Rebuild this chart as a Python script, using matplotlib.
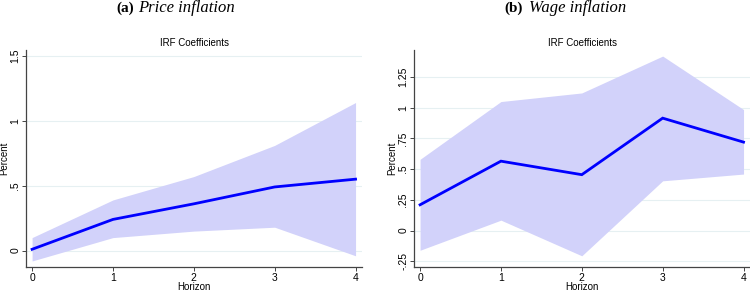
import matplotlib
matplotlib.use("Agg")
import matplotlib.pyplot as plt

# horizons and IRF estimates
horizon = [0, 1, 2, 3, 4]

price_mean = [0.01, 0.24, 0.36, 0.49, 0.55]
price_upper = [0.10, 0.39, 0.57, 0.81, 1.14]
price_lower = [-0.08, 0.10, 0.15, 0.18, -0.04]
price_ticks = [0, 0.5, 1, 1.5]
price_ticklabels = ["0", ".5", "1", "1.5"]

wage_mean = [0.21, 0.565, 0.455, 0.915, 0.72]
wage_upper = [0.58, 1.05, 1.12, 1.42, 0.985]
wage_lower = [-0.16, 0.085, -0.205, 0.405, 0.46]
wage_ticks = [-0.25, 0, 0.25, 0.5, 0.75, 1, 1.25]
wage_ticklabels = ["-.25", "0", ".25", ".5", ".75", "1", "1.25"]

plt.rcParams["font.family"] = ["Liberation Sans", "DejaVu Sans"]

fig = plt.figure(figsize=(7.5, 2.92), dpi=100)
ax_a = fig.add_axes([0.0347, 0.084, 0.448, 0.745])
ax_b = fig.add_axes([0.552, 0.084, 0.448, 0.745])


def irf_panel(ax, mean, lower, upper, ticks, ticklabels, ylim):
    ax.fill_between(horizon, lower, upper, color="#d2d2fa", lw=0)
    ax.plot(horizon, mean, color="#0000ff", lw=2.0, solid_joinstyle="miter")
    ax.set_xlim(-0.075, 4.08)
    ax.set_ylim(*ylim)
    ax.set_xticks(horizon)
    ax.set_yticks(ticks)
    ax.set_yticklabels(ticklabels, rotation=90, va="center")
    for t in ticks:
        ax.axhline(t, color="#e6f0f2", lw=0.8, zorder=0)
    for s in ["top", "right"]:
        ax.spines[s].set_visible(False)
    for s in ["left", "bottom"]:
        ax.spines[s].set_color("#444444")
        ax.spines[s].set_linewidth(0.9)
    ax.tick_params(labelsize=7.5, length=3, width=0.7, color="#444444", pad=1)
    ax.set_title("IRF Coefficients", fontsize=7, pad=3)
    ax.set_xlabel("Horizon", fontsize=7, labelpad=-0.5)
    ax.set_ylabel("Percent", fontsize=7, labelpad=1)


irf_panel(ax_a, price_mean, price_lower, price_upper,
          price_ticks, price_ticklabels, (-0.13, 1.545))
irf_panel(ax_b, wage_mean, wage_lower, wage_upper,
          wage_ticks, wage_ticklabels, (-0.30, 1.47))

# panel captions: bold letter, italic name
serif = ["Liberation Serif", "DejaVu Serif"]
cap_y = 1 - 8 / 292
fig.text(134 / 750, cap_y, "(a)", ha="right", va="center",
         fontsize=11, fontweight="bold", family=serif)
fig.text(138 / 750, cap_y, "Price inflation", ha="left", va="center",
         fontsize=12, style="italic", family=serif)
fig.text(523 / 750, cap_y, "(b)", ha="right", va="center",
         fontsize=11, fontweight="bold", family=serif)
fig.text(529 / 750, cap_y, "Wage inflation", ha="left", va="center",
         fontsize=12, style="italic", family=serif)

fig.savefig("out.png", dpi=100)
